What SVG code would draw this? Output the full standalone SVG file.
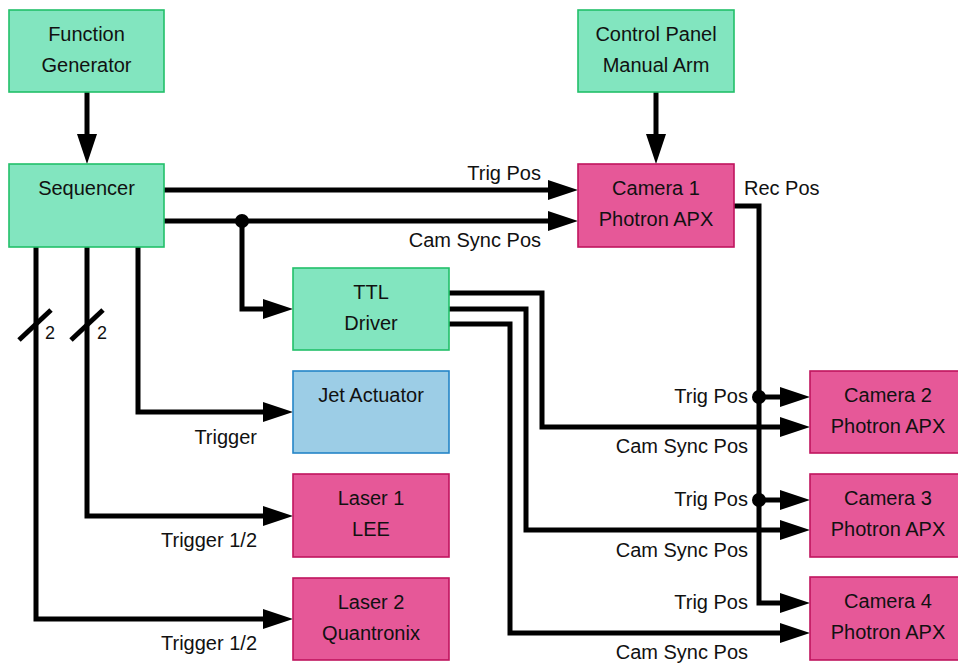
<svg xmlns="http://www.w3.org/2000/svg" width="958" height="663" viewBox="0 0 958 663">
<style>
.n rect{stroke-width:1.6}
.g rect{fill:#82E5BF;stroke:#22C06A}
.p rect{fill:#E65898;stroke:#C0155E}
.b rect{fill:#9CCDE6;stroke:#2585C7}
text{font-family:"Liberation Sans",Arial,Helvetica,sans-serif;font-size:20px;fill:#111}
.n text{text-anchor:middle}
.r{text-anchor:end}
.w{fill:none;stroke:#000;stroke-width:5;stroke-linejoin:miter}
.a{marker-end:url(#ah)}
</style>
<defs>
<marker id="ah" markerUnits="userSpaceOnUse" markerWidth="30" markerHeight="20" viewBox="0 -10 30 20" refX="10" refY="0" orient="auto" overflow="visible">
<polygon points="0,-10 30,0 0,10" fill="#000"/>
</marker>
</defs>
<g id="connectors">
<path class="w a" d="M87,92 V144"/>
<path class="w a" d="M656,92 V144"/>
<path class="w a" d="M164,190 H558"/>
<path class="w a" d="M164,221 H558"/>
<path class="w a" d="M242,221 V309 H273"/>
<path class="w a" d="M138,247 V412 H273"/>
<path class="w a" d="M87,247 V516 H273"/>
<path class="w a" d="M36,247 V619 H273"/>
<path class="w" d="M19,340 L51,310"/>
<path class="w" d="M71,340 L103,310"/>
<path class="w a" d="M449,293 H542 V427 H790"/>
<path class="w a" d="M449,309 H526 V530 H790"/>
<path class="w a" d="M449,324 H510 V633 H790"/>
<path class="w a" d="M734,206 H759 V603 H790"/>
<path class="w a" d="M759,397 H790"/>
<path class="w a" d="M759,500 H790"/>
<circle cx="242" cy="221" r="7"/>
<circle cx="759" cy="397" r="7"/>
<circle cx="759" cy="500" r="7"/>
<text class="r" x="541" y="180">Trig Pos</text>
<text class="r" x="541" y="247">Cam Sync Pos</text>
<text x="744" y="195">Rec Pos</text>
<text class="r" x="257" y="444">Trigger</text>
<text class="r" x="257" y="547">Trigger 1/2</text>
<text class="r" x="257" y="650">Trigger 1/2</text>
<text x="45" y="339" style="font-size:18px">2</text>
<text x="97" y="339" style="font-size:18px">2</text>
<text class="r" x="748" y="403">Trig Pos</text>
<text class="r" x="748" y="453">Cam Sync Pos</text>
<text class="r" x="748" y="506">Trig Pos</text>
<text class="r" x="748" y="557">Cam Sync Pos</text>
<text class="r" x="748" y="609">Trig Pos</text>
<text class="r" x="748" y="659">Cam Sync Pos</text>
</g>
<g id="function-generator" class="n g"><rect x="9" y="10" width="155" height="82"/><text x="86.5" y="41">Function</text><text x="86.5" y="72">Generator</text></g>
<g id="control-panel" class="n g"><rect x="578" y="10" width="156" height="82"/><text x="656" y="41">Control Panel</text><text x="656" y="72">Manual Arm</text></g>
<g id="sequencer" class="n g"><rect x="9" y="164" width="155" height="83"/><text x="86.5" y="195">Sequencer</text></g>
<g id="camera1" class="n p"><rect x="578" y="164" width="156" height="83"/><text x="656" y="195">Camera 1</text><text x="656" y="226">Photron APX</text></g>
<g id="ttl-driver" class="n g"><rect x="293" y="268" width="156" height="82"/><text x="371" y="299">TTL</text><text x="371" y="330">Driver</text></g>
<g id="jet-actuator" class="n b"><rect x="293" y="371" width="156" height="82"/><text x="371" y="402">Jet Actuator</text></g>
<g id="laser1" class="n p"><rect x="293" y="474" width="156" height="83"/><text x="371" y="505">Laser 1</text><text x="371" y="536">LEE</text></g>
<g id="laser2" class="n p"><rect x="293" y="578" width="156" height="82"/><text x="371" y="609">Laser 2</text><text x="371" y="640">Quantronix</text></g>
<g id="camera2" class="n p"><rect x="810" y="371" width="156" height="82"/><text x="888" y="402">Camera 2</text><text x="888" y="433">Photron APX</text></g>
<g id="camera3" class="n p"><rect x="810" y="474" width="156" height="83"/><text x="888" y="505">Camera 3</text><text x="888" y="536">Photron APX</text></g>
<g id="camera4" class="n p"><rect x="810" y="577" width="156" height="83"/><text x="888" y="608">Camera 4</text><text x="888" y="639">Photron APX</text></g>
</svg>
